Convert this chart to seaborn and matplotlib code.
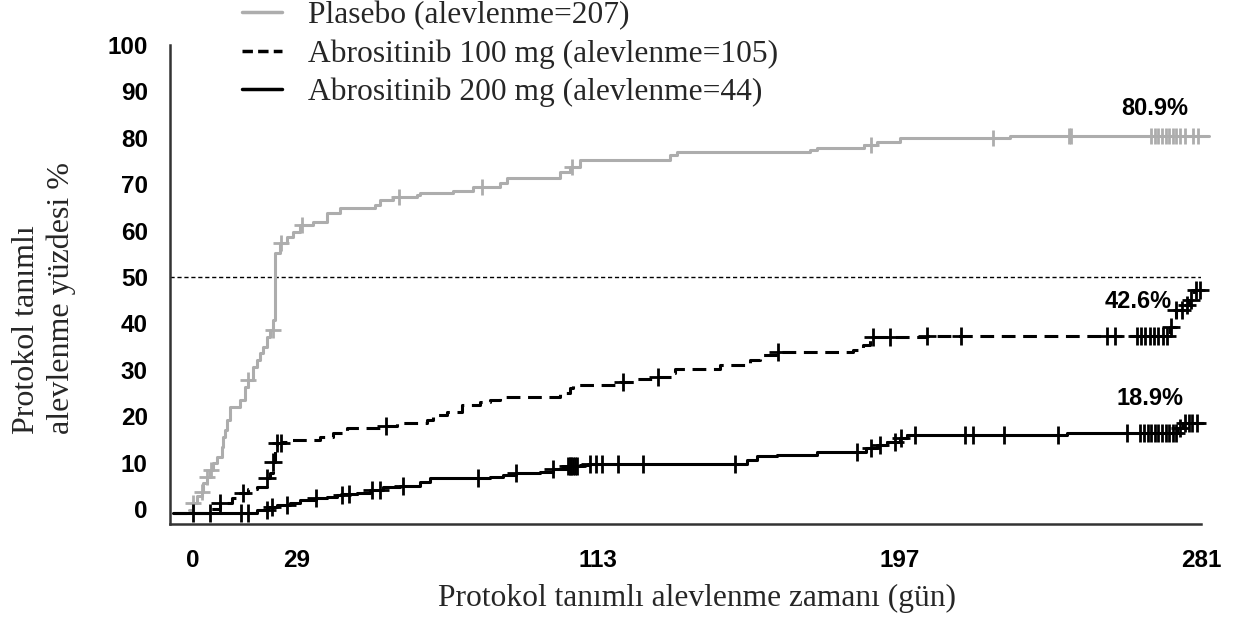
import numpy as np
import pandas as pd
import matplotlib
matplotlib.use("Agg")
import matplotlib.pyplot as plt
from matplotlib.lines import Line2D
import seaborn as sns

# Kaplan-Meier style cumulative flare %
placebo_t = [-1, 0.2, 1.1, 2.5, 3, 3.9, 4.8, 5.7, 6.7, 8.1, 8.5, 9, 9.5, 10.4, 13.2, 14.6, 15.4,
             16.9, 17.8, 18.7, 19.7, 20.6, 21.5, 22.5, 23, 24.3, 26.2, 28, 30, 33.5, 37.3, 41,
             50.8, 52.2, 55.8, 62.5, 63.3, 72.5, 78, 85.6, 87.6, 102.3, 105, 107.9, 133, 134.8,
             172, 173.8, 187, 190.5, 197, 227.7, 283]
placebo_y = [-0.2, 1.3, 2.7, 3.7, 5.6, 7, 8.4, 9.9, 11.3, 13.4, 15.6, 17, 19.2, 22, 23.5, 26.4, 27.8,
             30.7, 32.1, 33.6, 35, 37.1, 38.6, 40.7, 55.2, 57.3, 58.6, 59.7, 61.2, 61.9, 63.8, 64.9,
             65.5, 66.6, 67.2, 67.7, 68.1, 68.5, 69.4, 70.3, 71.3, 72.6, 73.7, 75.2, 76.3, 77,
             77.4, 77.8, 78.4, 79, 80, 80.4, 80.4]

abro100_t = [-5.4, 4.8, 7.6, 11, 13.2, 15.4, 17.8, 20.6, 21.5, 22.4, 23, 23.6, 24.8, 26.2, 35.5,
             39.2, 42.9, 54, 56.8, 65.2, 67, 70.8, 75, 80, 82.8, 85.6, 102.3, 105.1, 106, 119,
             123.7, 129.2, 133.6, 134.3, 147, 155.2, 158, 163, 184, 186.7, 188.6, 189.6, 204.5,
             272.2, 274, 275.8, 277.6, 279, 280.5]
abro100_y = [-0.9, 0, 1.3, 2.3, 3.4, 4.3, 4.7, 6.7, 7.8, 10.1, 12.7, 14.2, 14.5, 14.9, 15.6,
             16.4, 17.4, 17.9, 18.5, 19.2, 20.3, 21, 22.4, 23.1, 23.5, 24.1, 25, 26, 26.7, 27.4,
             28, 28.4, 29.3, 30.2, 31, 32.1, 33.2, 33.8, 34.3, 35.3, 36.4, 37, 37.3,
             39.2, 42.9, 44, 45, 47.2, 47.2]

abro200_t = [-5.4, 17.8, 21, 23.4, 27.1, 29.9, 34.5, 37.3, 40.1, 42, 45.7, 49.4, 53.1, 57.7, 63.3,
             66.1, 82.8, 86.5, 90.2, 96.7, 100.4, 104.5, 107.9, 110.7, 154.3, 157.1, 162.7, 173.8,
             187.7, 190.5, 193.3, 197, 198.9, 243.5, 274.1, 276, 281.5]
abro200_y = [-0.9, -0.2, 0.5, 0.9, 1.3, 1.9, 2.4, 2.6, 3.0, 3.2, 3.5, 4.1, 4.8, 4.9, 5.9,
             6.6, 7.0, 7.3, 7.7, 8.0, 8.7, 9.2, 9.5, 9.8, 10.6, 11.4, 11.6, 12.3,
             13.1, 13.8, 14.5, 15.2, 15.9, 16.3, 17.5, 18.5, 18.5]

# censored observations (days)
placebo_cens = [0.2, 2.5, 3.9, 5, 15.4, 22.4, 24.5, 30.4, 57.5, 80.5, 105.6, 189, 223, 244, 244.8,
                267, 268, 269, 270, 271, 272, 273, 274, 275, 276.5, 278.7, 280]
abro100_cens = [7.6, 14, 20.6, 22.4, 23.6, 24.5, 54, 120, 129.7, 163, 189.6, 194.3, 204.5, 214,
                254.6, 257, 263, 264.2, 265.4, 266.6, 267.8, 269, 270.2, 271.4, 272.5, 274,
                275.5, 277, 278, 279.5, 280.5]
abro200_cens = [0.2, 4.8, 13.6, 15.5, 20.6, 22, 26.4, 34.5, 41.7, 43.7, 49.9, 52.2, 58.7, 79.6,
                90.2, 100.4, 104.5, 105, 105.5, 106, 106.5, 107, 110.7, 112.5, 113.9, 118.6, 125.5,
                151, 185, 189.1, 191.4, 195.6, 197.3, 201.2, 215.1, 217.4, 226, 241.1, 260.2,
                264, 265, 266, 267, 268, 269, 270, 271, 272, 273, 274, 275, 276.5, 277.5,
                278.5, 279.7]

labels = ["Plasebo (alevlenme=207)", "Abrositinib 100 mg (alevlenme=105)",
          "Abrositinib 200 mg (alevlenme=44)"]
end_labels = ["80.9%", "42.6%", "18.9%"]
end_label_pos = [(268, 86.4), (263.4, 44.8), (266.7, 23.9)]
x_ticks = [0, 29, 113, 197, 281]
y_ticks = list(range(0, 101, 10))

GRAY = "#adadad"
BLACK = "#000000"
SERIF = "Liberation Serif"
SANS = "Liberation Sans"

sns.set_style("white")
plt.rcParams['font.family'] = ['Liberation Sans', 'DejaVu Sans']

fig = plt.figure(figsize=(12.35, 6.19), dpi=100)
ax = fig.add_axes([170 / 1235, 1 - 524 / 619, 1031.4 / 1235, 479 / 619])

groups = [
    (placebo_t, placebo_y, placebo_cens, GRAY, "-", 11),
    (abro100_t, abro100_y, abro100_cens, BLACK, (0, (4.5, 2.5)), 13),
    (abro200_t, abro200_y, abro200_cens, BLACK, "-", 13),
]

for t, y, cens, col, ls, msz in groups:
    t = np.array(t)
    y = np.array(y)
    sns.lineplot(x=t, y=y, ax=ax, drawstyle="steps-post", color=col, linewidth=2.2,
                 linestyle=ls, estimator=None, sort=False, legend=False, clip_on=False)
    idx = np.searchsorted(t, np.array(cens), side="right") - 1
    cy = y[np.clip(idx, 0, len(y) - 1)]
    sns.scatterplot(x=cens, y=cy, ax=ax, marker="+", s=msz ** 2, linewidth=2.0,
                    color=col, legend=False, clip_on=False, zorder=3)

# 50% reference line
ax.axhline(50, color="black", linewidth=1.0, linestyle=(0, (3, 2)), zorder=1)

for txt, (xx, yy) in zip(end_labels, end_label_pos):
    ax.text(xx, yy, txt, ha="center", va="center", fontsize=17, fontweight="bold",
            family=SANS, color="black")

ax.set_xlim(-6.3, 281)
ax.set_ylim(-3.23, 100)
ax.set_xticks(x_ticks)
ax.set_yticks(y_ticks)
ax.set_xlabel("")
ax.set_ylabel("")
for lab in ax.get_xticklabels() + ax.get_yticklabels():
    lab.set_fontfamily(SANS)
    lab.set_fontweight("bold")
    lab.set_fontsize(17.5)
ax.tick_params(axis="both", direction="out", length=9, width=1.6, color="#333333",
               labelcolor="black", pad=7)
ax.tick_params(axis="x", pad=9)
sns.despine(ax=ax)
for sp in ["left", "bottom"]:
    ax.spines[sp].set_linewidth(1.8)
    ax.spines[sp].set_color("#333333")

fig.text(697 / 1235, 1 - 598 / 619, "Protokol tanımlı alevlenme zamanı (gün)",
         ha="center", va="center", fontsize=22.7, family=SERIF)
fig.text(44 / 1235, 1 - 298 / 619, "Protokol tanımlı\nalevlenme yüzdesi %",
         rotation=90, ha="center", va="center", multialignment="left",
         fontsize=23, family=SERIF, linespacing=1.25)

handles = [
    Line2D([], [], color=GRAY, linewidth=2.5),
    Line2D([], [], color=BLACK, linewidth=2.5, linestyle=(0, (3, 1.5))),
    Line2D([], [], color=BLACK, linewidth=2.5),
]
fig.legend(handles, labels, loc="upper left", bbox_to_anchor=(242 / 1235, 0.998),
           frameon=False, prop={"family": SERIF, "size": 22.7}, handlelength=1.27,
           handletextpad=0.83, labelspacing=0.28, borderaxespad=0, borderpad=0)

fig.savefig("out.png", dpi=100)
